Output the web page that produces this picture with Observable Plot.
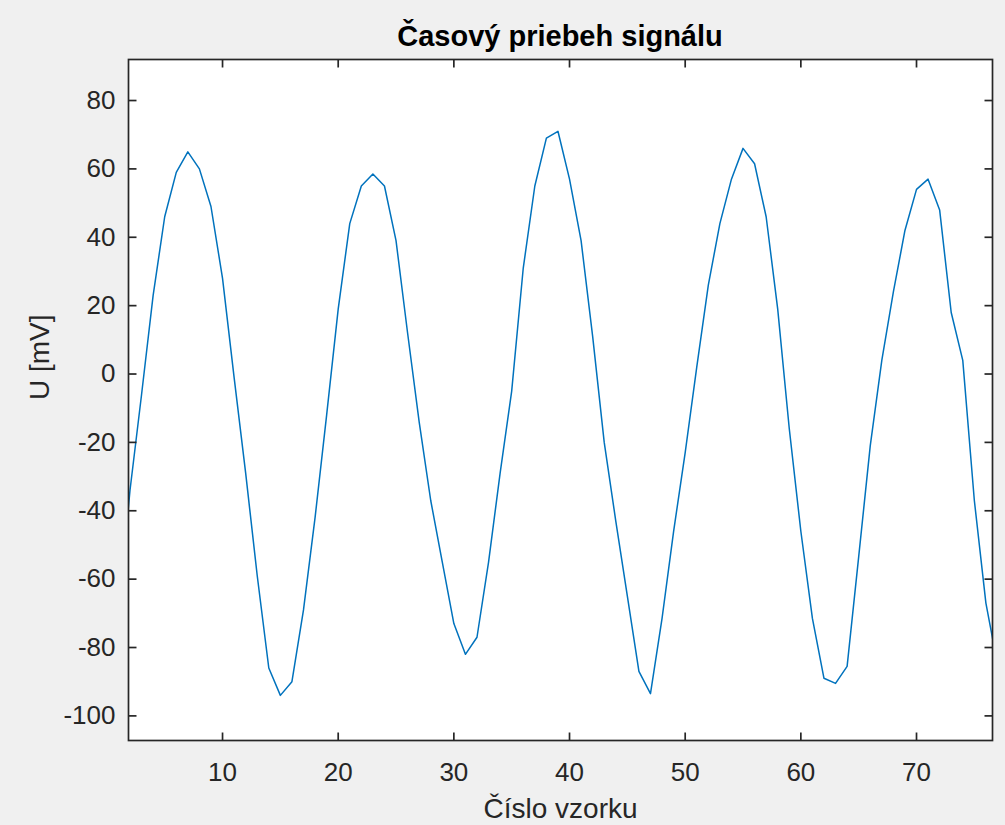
<!DOCTYPE html>
<html>
<head>
<meta charset="utf-8">
<script src="https://cdn.jsdelivr.net/npm/d3@7"></script>
<script src="https://cdn.jsdelivr.net/npm/@observablehq/plot@0.6"></script>
<style>
  html, body { margin: 0; padding: 0; background: #f0f0f0; }
  #wrap { position: relative; width: 1005px; height: 825px; overflow: hidden; }
  #title { position: absolute; top: 0; left: 0; width: 1120px; height: 72px; line-height: 72px;
           text-align: center; font-family: "Liberation Sans", Arial, sans-serif; font-weight: bold;
           font-size: 29px; color: #000; }
</style>
</head>
<body>
<div id="wrap"><div id="chart"></div><div id="title">Časový priebeh signálu</div></div>
<script>
// Sample index and measured voltage (mV)
const sampleIndex = d3.range(1, 78);
const voltage = [
  -70, -34, -6, 23, 46, 59, 65, 60, 49, 28,
  -1, -29, -59, -86, -94, -90, -69, -42, -12, 19,
  44, 55, 58.5, 55, 39, 12, -14, -37, -55, -73,
  -82, -77, -55, -29, -5, 31, 55, 69, 71, 57,
  39, 11, -20, -43, -65, -87, -93.5, -71.5, -46, -23,
  2, 26, 44, 57, 66, 61.5, 46, 19, -16, -46,
  -71.5, -89, -90.5, -85.5, -53.5, -21, 4, 24, 42, 54,
  57, 48, 18, 4, -37, -67, -85
];
const xTicks = [10, 20, 30, 40, 50, 60, 70];
const yTicks = [-100, -80, -60, -40, -20, 0, 20, 40, 60, 80];
const xLabel = "Číslo vzorku";
const yLabel = "U [mV]";

const data = sampleIndex.map((x, i) => ({x, y: voltage[i]}));
const ink = "#262626";

const W = 1005, H = 825, mL = 128, mR = 13, mT = 59, mB = 85;
const xDomain = [1.87, 76.57];
const yDomain = [-107.2, 92];
const tickPx = 8;
// tick length converted to data units so ticks point inward from the frame
const tx = tickPx * (xDomain[1] - xDomain[0]) / (W - mL - mR);
const ty = tickPx * (yDomain[1] - yDomain[0]) / (H - mT - mB);

const xTickRows = xTicks.flatMap(v => [
  {v, a: yDomain[0], b: yDomain[0] + ty},
  {v, a: yDomain[1] - ty, b: yDomain[1]}
]);
const yTickRows = yTicks.flatMap(v => [
  {v, a: xDomain[0], b: xDomain[0] + tx},
  {v, a: xDomain[1] - tx, b: xDomain[1]}
]);

const chart = Plot.plot({
  width: W,
  height: H,
  marginLeft: mL,
  marginRight: mR,
  marginTop: mT,
  marginBottom: mB,
  style: {background: "transparent", fontFamily: "'Liberation Sans', Arial, sans-serif", color: ink},
  x: {domain: xDomain},
  y: {domain: yDomain},
  marks: [
    Plot.frame({fill: "white", stroke: null}),
    Plot.line(data, {x: "x", y: "y", stroke: "#0072BD", strokeWidth: 1.5, clip: true}),
    Plot.axisX(xTicks, {anchor: "bottom", tickSize: 0, tickPadding: 22, fontSize: 26, label: null, tickFormat: d => String(d)}),
    Plot.axisY(yTicks, {anchor: "left", tickSize: 0, tickPadding: 13, fontSize: 26, label: null, tickFormat: d => String(d)}),
    // inward tick marks on all four sides
    Plot.link(xTickRows, {x1: "v", x2: "v", y1: "a", y2: "b", stroke: ink, strokeWidth: 1.7}),
    Plot.link(yTickRows, {y1: "v", y2: "v", x1: "a", x2: "b", stroke: ink, strokeWidth: 1.7}),
    Plot.frame({stroke: ink, strokeWidth: 1.7}),
    Plot.text([xLabel], {frameAnchor: "bottom", dy: 77, fontSize: 28, fill: ink}),
    Plot.text([yLabel], {frameAnchor: "left", dx: -88, rotate: -90, fontSize: 28, fill: ink})
  ]
});
document.getElementById("chart").appendChild(chart);
</script>
</body>
</html>
